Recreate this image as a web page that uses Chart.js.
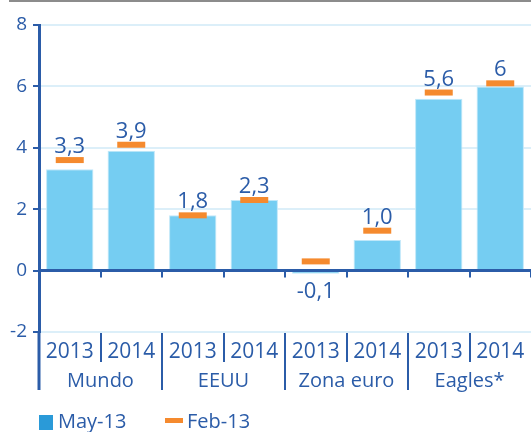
<!DOCTYPE html>
<html>
<head>
<meta charset="utf-8">
<script src="https://cdn.jsdelivr.net/npm/chart.js@4.4.0/dist/chart.umd.min.js"></script>
<style>
  html, body { margin: 0; padding: 0; background: #fff; }
  #wrap { position: relative; width: 531px; height: 432px; overflow: hidden; }
  #chart { position: absolute; left: 0; top: 0; }
  .lg { position: absolute; font: 20px "Open Sans", sans-serif; color: #2b5ca8; line-height: 20px; }
  .lg-box { position: absolute; left: 39px; top: 415px; width: 14px; height: 15px; background: #2a9ad8; }
  .lg-dash { position: absolute; left: 165px; top: 418px; width: 18px; height: 5px; background: #f58a2e; }
</style>
</head>
<body>
<div id="wrap">
  <canvas id="chart" width="531" height="432"></canvas>
  <div class="lg-box"></div>
  <div class="lg" style="left:58px; top:411px;">May-13</div>
  <div class="lg-dash"></div>
  <div class="lg" style="left:187px; top:411px;">Feb-13</div>
</div>
<script>
// Data
const years = ['2013', '2014', '2013', '2014', '2013', '2014', '2013', '2014'];
const groups = ['Mundo', 'EEUU', 'Zona euro', 'Eagles*'];
const may13 = [3.3, 3.9, 1.8, 2.3, -0.1, 1.0, 5.6, 6];
const feb13 = [3.6, 4.1, 1.8, 2.3, 0.3, 1.3, 5.8, 6.1];
const valueLabels = ['3,3', '3,9', '1,8', '2,3', '-0,1', '1,0', '5,6', '6'];
const yMin = -2, yMax = 8, yStep = 2;

const BLUE = '#2b5ca8';
const FONT = '"Open Sans", sans-serif';

// Extra drawing: zero line, group labels, separators, value labels
const decor = {
    id: 'decor',
    afterDatasetsDraw(chart) {
        const ctx = chart.ctx;
        const x = chart.scales.x, y = chart.scales.y;
        const area = chart.chartArea;
        const y0 = y.getPixelForValue(0);
        const step = (area.right - area.left) / years.length;

        ctx.save();
        // top grey rule
        ctx.strokeStyle = '#8c8c8c';
        ctx.lineWidth = 2;
        ctx.beginPath();
        ctx.moveTo(9, 1);
        ctx.lineTo(area.right, 1);
        ctx.stroke();

        // zero line
        ctx.strokeStyle = BLUE;
        ctx.lineWidth = 3;
        ctx.beginPath();
        ctx.moveTo(area.left, y0);
        ctx.lineTo(area.right, y0);
        ctx.stroke();

        // small ticks below zero line
        ctx.lineWidth = 2;
        for (let i = 1; i <= years.length; i++) {
            const px = Math.round(area.left + i * step);
            ctx.beginPath();
            ctx.moveTo(px, y0);
            ctx.lineTo(px, y0 + 7);
            ctx.stroke();
        }

        // category separators under the plot
        const bottom = area.bottom;
        for (let i = 1; i < years.length; i++) {
            const px = Math.round(area.left + i * step);
            ctx.beginPath();
            ctx.moveTo(px, bottom + 1);
            ctx.lineTo(px, i % 2 === 0 ? bottom + 58 : bottom + 30);
            ctx.stroke();
        }
        // left axis extension
        ctx.lineWidth = 3;
        ctx.beginPath();
        ctx.moveTo(area.left, bottom);
        ctx.lineTo(area.left, bottom + 58);
        ctx.stroke();

        // group labels
        ctx.fillStyle = BLUE;
        ctx.font = '20px ' + FONT;
        ctx.textAlign = 'center';
        ctx.textBaseline = 'middle';
        groups.forEach((g, i) => {
            const cx = (x.getPixelForValue(i * 2) + x.getPixelForValue(i * 2 + 1)) / 2;
            ctx.fillText(g, cx, bottom + 49);
        });

        // value labels
        ctx.font = '22px ' + FONT;
        ctx.textBaseline = 'alphabetic';
        may13.forEach((v, i) => {
            const cx = x.getPixelForValue(i);
            if (v < 0) {
                ctx.fillText(valueLabels[i], cx, y.getPixelForValue(v) + 24);
            } else {
                const top = Math.min(y.getPixelForValue(v), y.getPixelForValue(feb13[i]) - 3);
                ctx.fillText(valueLabels[i], cx, top - 4);
            }
        });
        ctx.restore();
    }
};

new Chart(document.getElementById('chart'), {
    data: {
        labels: years,
        datasets: [
            {
                type: 'line',
                label: 'Feb-13',
                data: feb13,
                showLine: false,
                pointStyle: 'line',
                pointRadius: 14,
                pointHoverRadius: 14,
                pointBorderWidth: 6,
                borderColor: '#f58a2e',
                backgroundColor: '#f58a2e',
                order: 0
            },
            {
                type: 'bar',
                label: 'May-13',
                data: may13,
                backgroundColor: '#75cdf2',
                borderColor: '#bfe7f9',
                borderWidth: 1,
                barPercentage: 0.77,
                categoryPercentage: 1,
                order: 1
            }
        ]
    },
    options: {
        responsive: false,
        animation: false,
        events: [],
        layout: { autoPadding: false, padding: { top: 25, right: 0, bottom: 0, left: 0 } },
        plugins: {
            legend: { display: false },
            tooltip: { enabled: false }
        },
        scales: {
            x: {
                offset: true,
                grid: { display: false, drawTicks: false },
                border: { display: false },
                ticks: {
                    color: BLUE,
                    font: { family: FONT, size: 21 },
                    padding: 7,
                    maxRotation: 0
                },
                afterFit(scale) {
                    scale.height = 100;
                    scale.paddingLeft = 0;
                    scale.paddingRight = 0;
                }
            },
            y: {
                min: yMin,
                max: yMax,
                ticks: {
                    stepSize: yStep,
                    color: BLUE,
                    font: { family: FONT, size: 19 },
                    padding: 6
                },
                grid: {
                    color: ctx => ctx.tick && ctx.tick.value === 0 ? 'rgba(0,0,0,0)' : '#dceff9',
                    tickColor: BLUE,
                    tickLength: 6,
                    lineWidth: 2
                },
                border: { display: true, color: BLUE, width: 3 },
                afterFit(scale) { scale.width = 39; }
            }
        }
    },
    plugins: [decor]
});
</script>
</body>
</html>
